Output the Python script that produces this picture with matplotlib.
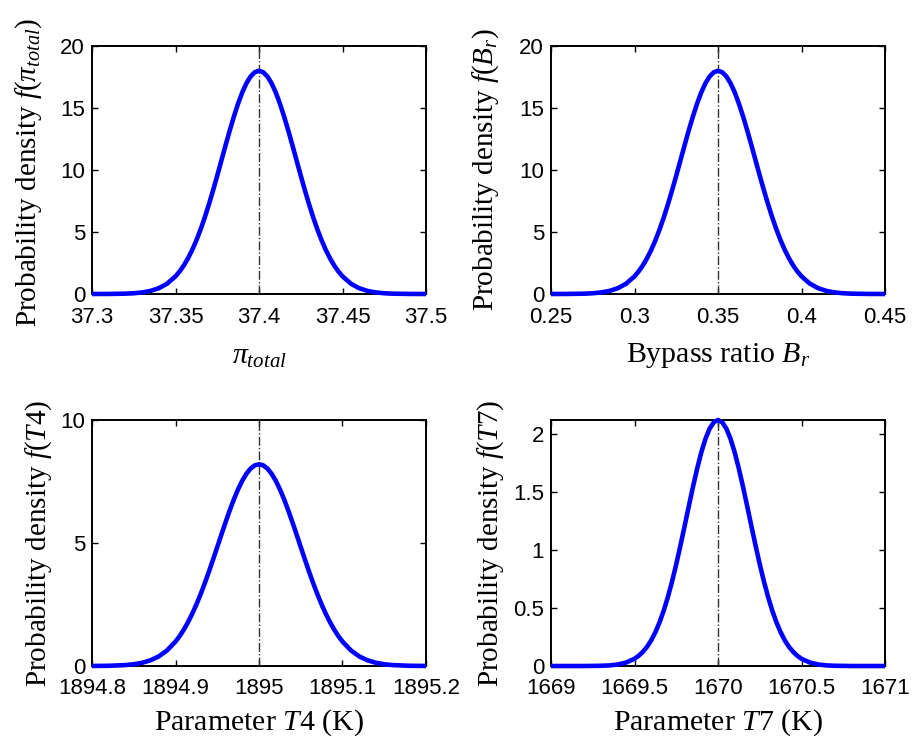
import numpy as np
import matplotlib
matplotlib.use("Agg")
import matplotlib.pyplot as plt

# ── Data ──────────────────────────────────────────────────────────────────────
PI_X = [37.30, 37.31, 37.32, 37.325, 37.33, 37.335, 37.34, 37.345, 37.35, 37.3525,
        37.355, 37.3575, 37.36, 37.3625, 37.365, 37.3675, 37.37, 37.3725, 37.375,
        37.3775, 37.38, 37.3825, 37.385, 37.3875, 37.39, 37.3925, 37.395, 37.3975,
        37.40,
        37.4025, 37.405, 37.4075, 37.41, 37.4125, 37.415, 37.4175, 37.42, 37.4225,
        37.425, 37.4275, 37.43, 37.4325, 37.435, 37.4375, 37.44, 37.4425, 37.445,
        37.4475, 37.45, 37.455, 37.46, 37.465, 37.47, 37.475, 37.48, 37.49, 37.50]
PI_Y = [0.000, 0.005, 0.027, 0.060, 0.125, 0.248, 0.467, 0.835, 1.426, 1.825,
        2.307, 2.881, 3.552, 4.323, 5.196, 6.165, 7.226, 8.358, 9.547,
        10.772, 12.001, 13.197, 14.326, 15.362, 16.264, 17.002, 17.549, 17.886,
        18.000,
        17.886, 17.549, 17.002, 16.264, 15.362, 14.326, 13.197, 12.001, 10.772,
        9.547, 8.358, 7.226, 6.165, 5.196, 4.323, 3.552, 2.881, 2.307,
        1.825, 1.426, 0.835, 0.467, 0.248, 0.125, 0.060, 0.027, 0.005, 0.000]

BR_X = [0.25, 0.26, 0.27, 0.275, 0.28, 0.285, 0.29, 0.295, 0.30, 0.3025,
        0.305, 0.3075, 0.31, 0.3125, 0.315, 0.3175, 0.32, 0.3225, 0.325,
        0.3275, 0.33, 0.3325, 0.335, 0.3375, 0.34, 0.3425, 0.345, 0.3475,
        0.35,
        0.3525, 0.355, 0.3575, 0.36, 0.3625, 0.365, 0.3675, 0.37, 0.3725,
        0.375, 0.3775, 0.38, 0.3825, 0.385, 0.3875, 0.39, 0.3925, 0.395,
        0.3975, 0.40, 0.405, 0.41, 0.415, 0.42, 0.425, 0.43, 0.44, 0.45]
BR_Y = [0.000, 0.005, 0.027, 0.060, 0.125, 0.248, 0.467, 0.835, 1.426, 1.825,
        2.307, 2.881, 3.552, 4.323, 5.196, 6.165, 7.226, 8.358, 9.547,
        10.772, 12.001, 13.197, 14.326, 15.362, 16.264, 17.002, 17.549, 17.886,
        18.000,
        17.886, 17.549, 17.002, 16.264, 15.362, 14.326, 13.197, 12.001, 10.772,
        9.547, 8.358, 7.226, 6.165, 5.196, 4.323, 3.552, 2.881, 2.307,
        1.825, 1.426, 0.835, 0.467, 0.248, 0.125, 0.060, 0.027, 0.005, 0.000]

T4_X = [1894.80, 1894.82, 1894.84, 1894.85, 1894.86, 1894.87, 1894.88, 1894.89,
        1894.90, 1894.905, 1894.91, 1894.915, 1894.92, 1894.925, 1894.93, 1894.935,
        1894.94, 1894.945, 1894.95, 1894.955, 1894.96, 1894.965, 1894.97, 1894.975,
        1894.98, 1894.985, 1894.99, 1894.995, 1895.00,
        1895.005, 1895.01, 1895.015, 1895.02, 1895.025, 1895.03, 1895.035, 1895.04,
        1895.045, 1895.05, 1895.055, 1895.06, 1895.065, 1895.07, 1895.075, 1895.08,
        1895.085, 1895.09, 1895.095, 1895.10, 1895.11, 1895.12, 1895.13, 1895.14,
        1895.15, 1895.16, 1895.18, 1895.20]
T4_Y = [0.002, 0.009, 0.037, 0.071, 0.131, 0.231, 0.390, 0.637,
        0.992, 1.218, 1.482, 1.783, 2.121, 2.499, 2.912, 3.358,
        3.833, 4.328, 4.835, 5.346, 5.849, 6.331, 6.781, 7.186,
        7.536, 7.819, 8.029, 8.157, 8.200,
        8.157, 8.029, 7.819, 7.536, 7.186, 6.781, 6.331, 5.849,
        5.346, 4.835, 4.328, 3.833, 3.358, 2.912, 2.499, 2.121,
        1.783, 1.482, 1.218, 0.992, 0.637, 0.390, 0.231, 0.131,
        0.071, 0.037, 0.009, 0.002]

T7_X = [1669.0, 1669.2, 1669.3, 1669.35, 1669.4, 1669.45, 1669.5, 1669.525,
        1669.55, 1669.575, 1669.6, 1669.625, 1669.65, 1669.675, 1669.7, 1669.725,
        1669.75, 1669.775, 1669.8, 1669.825, 1669.85, 1669.875, 1669.9, 1669.925,
        1669.95, 1669.975, 1670.0,
        1670.025, 1670.05, 1670.075, 1670.1, 1670.125, 1670.15, 1670.175, 1670.2,
        1670.225, 1670.25, 1670.275, 1670.3, 1670.325, 1670.35, 1670.375, 1670.4,
        1670.425, 1670.45, 1670.475, 1670.5, 1670.55, 1670.6, 1670.65, 1670.7,
        1670.8, 1671.0]
T7_Y = [0.000, 0.000, 0.002, 0.005, 0.013, 0.030, 0.062, 0.088,
        0.122, 0.165, 0.221, 0.291, 0.376, 0.477, 0.595, 0.729,
        0.877, 1.038, 1.205, 1.376, 1.543, 1.700, 1.841, 1.958,
        2.046, 2.101, 2.120,
        2.101, 2.046, 1.958, 1.841, 1.700, 1.543, 1.376, 1.205,
        1.038, 0.877, 0.729, 0.595, 0.477, 0.376, 0.291, 0.221,
        0.165, 0.122, 0.088, 0.062, 0.030, 0.013, 0.005, 0.002,
        0.000, 0.000]

NOMINAL = [37.4, 0.35, 1895.0, 1670.0]

PI_XTICKS = [37.3, 37.35, 37.4, 37.45, 37.5]
BR_XTICKS = [0.25, 0.3, 0.35, 0.4, 0.45]
T4_XTICKS = [1894.8, 1894.9, 1895.0, 1895.1, 1895.2]
T7_XTICKS = [1669.0, 1669.5, 1670.0, 1670.5, 1671.0]
PI_XLABELS = ["37.3", "37.35", "37.4", "37.45", "37.5"]
BR_XLABELS = ["0.25", "0.3", "0.35", "0.4", "0.45"]
T4_XLABELS = ["1894.8", "1894.9", "1895", "1895.1", "1895.2"]
T7_XLABELS = ["1669", "1669.5", "1670", "1670.5", "1671"]

PI_YTICKS = [0, 5, 10, 15, 20]
T4_YTICKS = [0, 5, 10]
T7_YTICKS = [0, 0.5, 1, 1.5, 2]

# ── Style ─────────────────────────────────────────────────────────────────────
plt.rcParams["font.family"] = "Liberation Sans"
plt.rcParams["mathtext.fontset"] = "custom"
plt.rcParams["mathtext.rm"] = "Liberation Serif"
plt.rcParams["mathtext.it"] = "Liberation Serif:italic"
SERIF = "Liberation Serif"
XLABEL_FS = 21.5
YLABEL_FS = 21
TICK_FS = 16

fig = plt.figure(figsize=(9.17, 7.38), dpi=100)
W, H = 917, 738


def px_axes(x0, y0, x1, y1):
    return fig.add_axes([x0 / W, 1 - y1 / H, (x1 - x0) / W, (y1 - y0) / H])


panels = [
    (px_axes(92, 46, 426, 294), PI_X, PI_Y, NOMINAL[0], PI_XTICKS, PI_XLABELS,
     PI_YTICKS, 20, r"$\pi_{total}$", r"Probability density $f(\pi_{total})$",
     (-0.144, 0.49), (0.5, -0.2)),
    (px_axes(551, 46, 885, 294), BR_X, BR_Y, NOMINAL[1], BR_XTICKS, BR_XLABELS,
     PI_YTICKS, 20, r"Bypass ratio $B_r$", r"Probability density $f(B_r)$",
     (-0.150, 0.5), (0.5, -0.19)),
    (px_axes(92, 420, 426, 666), T4_X, T4_Y, NOMINAL[2], T4_XTICKS, T4_XLABELS,
     T4_YTICKS, 10, r"Parameter $T4$ (K)", r"Probability density $f(T4)$",
     (-0.114, 0.5), (0.5, -0.17)),
    (px_axes(551, 420, 885, 666), T7_X, T7_Y, NOMINAL[3], T7_XTICKS, T7_XLABELS,
     T7_YTICKS, max(T7_Y), r"Parameter $T7$ (K)", r"Probability density $f(T7)$",
     (-0.135, 0.5), (0.5, -0.17)),
]

for ax, xs, ys, mu, xt, xtl, yt, ytop, xlab, ylab, ylc, xlc in panels:
    ax.plot(xs, ys, color="#0000ff", lw=3.3, solid_capstyle="butt",
            solid_joinstyle="round", clip_on=False, zorder=3)
    ax.plot([mu, mu], [0, ytop], color="#333333", lw=1.0, ls="-.", zorder=2)
    ax.set_xlim(xt[0], xt[-1])
    ax.set_ylim(0, ytop)
    ax.set_xticks(xt)
    ax.set_xticklabels(xtl)
    ax.set_yticks(yt)
    ax.set_yticklabels([f"{v:g}" for v in yt])
    ax.tick_params(direction="in", top=True, right=True, length=4, width=1.0,
                   labelsize=TICK_FS)
    ax.tick_params(axis="x", pad=9)
    ax.tick_params(axis="y", pad=5)
    for sp in ax.spines.values():
        sp.set_linewidth(1.4)
    ax.set_xlabel(xlab, fontsize=XLABEL_FS, family=SERIF)
    ax.set_ylabel(ylab, fontsize=YLABEL_FS, family=SERIF)
    ax.yaxis.set_label_coords(*ylc)
    ax.xaxis.set_label_coords(*xlc)

fig.savefig("out.png", dpi=100)
